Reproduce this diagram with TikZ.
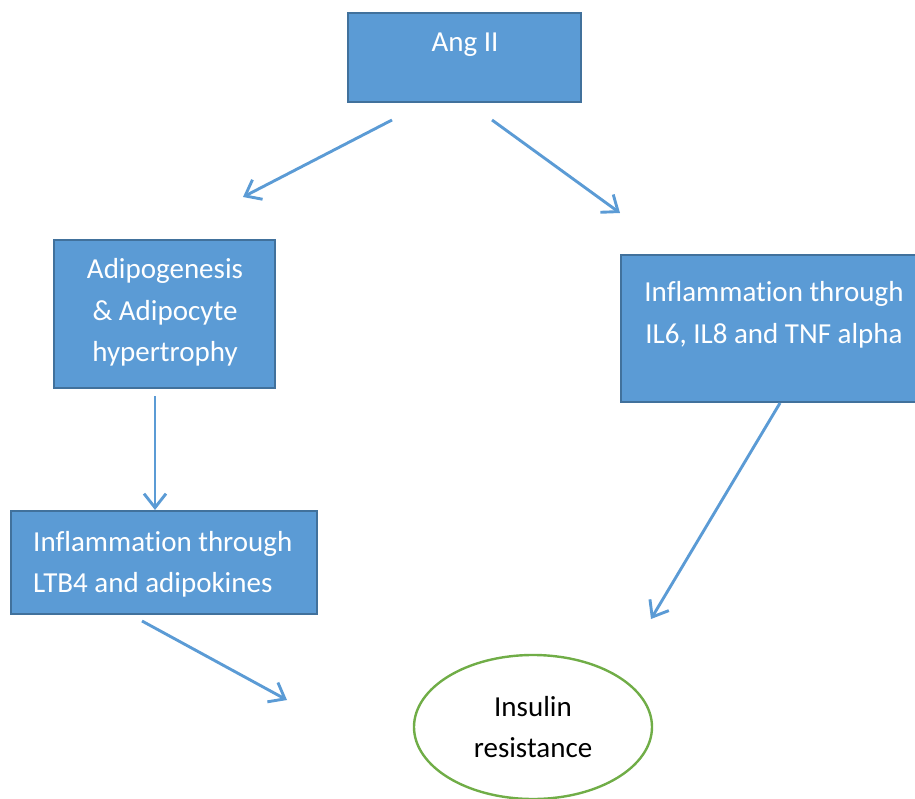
\documentclass[tikz,border=0pt]{standalone}
\usepackage{fontspec}
\setmainfont{Carlito}[Ligatures=NoCommon]
\usetikzlibrary{arrows.meta,shapes.geometric}
\definecolor{boxfill}{HTML}{5B9BD5}
\definecolor{boxline}{HTML}{41719C}
\definecolor{arrowc}{HTML}{5B9BD5}
\definecolor{ellline}{HTML}{70AD47}
\begin{document}
\begin{tikzpicture}[x=1pt,y=-1pt,
  box/.style={draw=boxline,fill=boxfill,line width=2pt,rectangle,inner sep=0pt},
  wtxt/.style={text=white,align=center,inner sep=0pt,anchor=base,font=\fontsize{29}{41}\selectfont},
  btxt/.style={text=black,align=center,inner sep=0pt,anchor=base,font=\fontsize{29}{41}\selectfont},
  conn/.style={draw=arrowc,line width=2.9pt,-{Straight Barb[length=14pt,width=22pt,line width=2.9pt]}},
  ell/.style={draw=ellline,line width=2.4pt,ellipse,inner sep=0pt,minimum width=238pt,minimum height=144pt}
]
\useasboundingbox (0,0) rectangle (915,799);
\begin{scope}
\clip (0,0) rectangle (915,799);
% boxes
\node[box,minimum width=233pt,minimum height=89pt] (ang) at (464.5,57.5) {};
\node[box,minimum width=221pt,minimum height=148pt] (adipo) at (164.5,314) {};
\node[box,minimum width=306pt,minimum height=103pt] (ltb) at (164,562.5) {};
\node[box,minimum width=306pt,minimum height=147pt] (il) at (774,328.5) {};
\node[ell] (ins) at (533,727) {};
% texts (anchor=base is the baseline of the last line)
\node[wtxt] (angt) at (465,51.7) {Ang II};
\node[wtxt] (adipot) at (165,361) {Adipogenesis\\\& Adipocyte\\hypertrophy};
\node[wtxt,align=left,anchor=base west] (ltbt) at (33,592) {Inflammation through\\LTB4 and adipokines};
\node[wtxt] (ilt) at (774,343) {Inflammation through\\IL6, IL8 and TNF alpha};
\node[btxt] (inst) at (533,757) {Insulin\\resistance};
% connectors
\coordinate (a1s) at (392,120); \coordinate (a1e) at (243,197);
\coordinate (a2s) at (492,120); \coordinate (a2e) at (620,213);
\coordinate (a3s) at (155,396); \coordinate (a3e) at (155,510);
\coordinate (a4s) at (142,621); \coordinate (a4e) at (287,700);
\coordinate (a5s) at (780,403); \coordinate (a5e) at (651,619);
\draw[conn] (a1s) -- (a1e);
\draw[conn] (a2s) -- (a2e);
\draw[conn] (a3s) -- (a3e);
\draw[conn] (a4s) -- (a4e);
\draw[conn] (a5s) -- (a5e);
\end{scope}
\end{tikzpicture}
\end{document}
